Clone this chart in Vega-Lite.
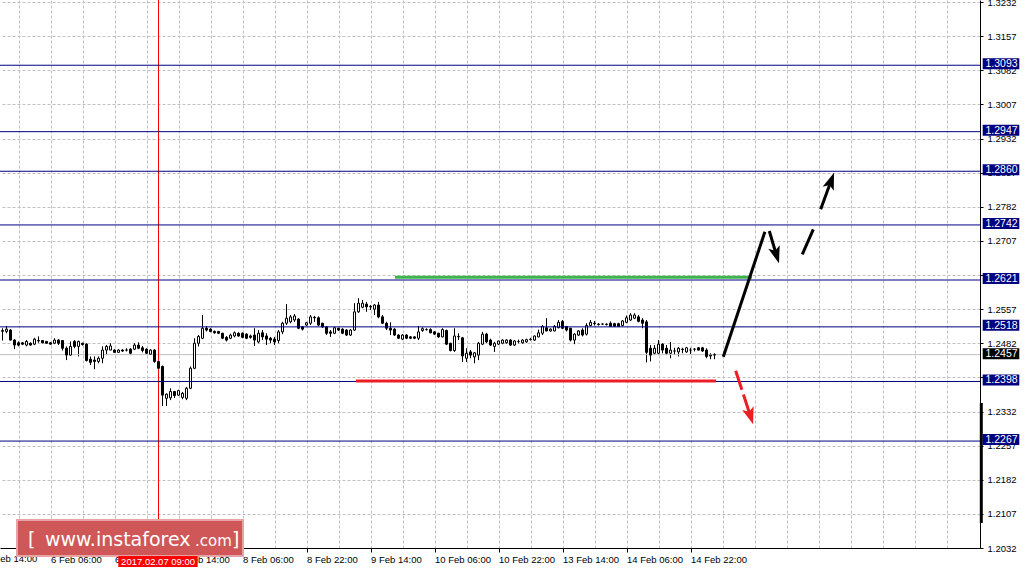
{
"$schema": "https://vega.github.io/schema/vega-lite/v6.json",
"width": 980, "height": 548,
"autosize": {"type": "none"},
"padding": {"left": 0, "top": 0, "right": 46, "bottom": 24},
"background": "white",
"config": {"view": {"stroke": null}, "scale": {"continuousPadding": 0},
 "axis": {"grid": true, "gridDash": [3,2], "gridColor": "#c0c0c0", "gridWidth": 1, "domainColor": "black", "domainWidth": 1, "tickColor": "black", "labelFont": "Liberation Sans", "labelFontSize": 9.5, "labelColor": "black", "labelOverlap": false, "labelFlush": false, "labelBound": false},
 "axisX": {"tickSize": 4, "labelAlign": "left", "labelBaseline": "top", "labelPadding": 2},
 "axisY": {"tickSize": 3, "labelPadding": 4}},
"datasets": {
"one": [{}],
"candles": [
{"i":0,"o":1.2508,"h":1.2515,"l":1.2488,"c":1.2510},
{"i":1,"o":1.2508,"h":1.2520,"l":1.2504,"c":1.2513},
{"i":2,"o":1.2511,"h":1.2513,"l":1.2488,"c":1.2489},
{"i":3,"o":1.2489,"h":1.2491,"l":1.2469,"c":1.2478},
{"i":4,"o":1.2483,"h":1.2486,"l":1.2475,"c":1.2478},
{"i":5,"o":1.2483,"h":1.2485,"l":1.2478,"c":1.2480},
{"i":6,"o":1.2478,"h":1.2489,"l":1.2475,"c":1.2486},
{"i":7,"o":1.2482,"h":1.2484,"l":1.2477,"c":1.2478},
{"i":8,"o":1.2480,"h":1.2494,"l":1.2478,"c":1.2491},
{"i":9,"o":1.2488,"h":1.2497,"l":1.2483,"c":1.2487},
{"i":10,"o":1.2488,"h":1.2489,"l":1.2482,"c":1.2483},
{"i":11,"o":1.2486,"h":1.2487,"l":1.2481,"c":1.2482},
{"i":12,"o":1.2483,"h":1.2485,"l":1.2479,"c":1.2480},
{"i":13,"o":1.2482,"h":1.2493,"l":1.2480,"c":1.2489},
{"i":14,"o":1.2489,"h":1.2491,"l":1.2478,"c":1.2482},
{"i":15,"o":1.2488,"h":1.2489,"l":1.2466,"c":1.2471},
{"i":16,"o":1.2471,"h":1.2475,"l":1.2445,"c":1.2456},
{"i":17,"o":1.2456,"h":1.2486,"l":1.2455,"c":1.2475},
{"i":18,"o":1.2486,"h":1.2489,"l":1.2471,"c":1.2475},
{"i":19,"o":1.2475,"h":1.2488,"l":1.2453,"c":1.2486},
{"i":20,"o":1.2482,"h":1.2483,"l":1.2477,"c":1.2479},
{"i":21,"o":1.2480,"h":1.2482,"l":1.2442,"c":1.2444},
{"i":22,"o":1.2447,"h":1.2453,"l":1.2434,"c":1.2440},
{"i":23,"o":1.2445,"h":1.2453,"l":1.2425,"c":1.2442},
{"i":24,"o":1.2442,"h":1.2453,"l":1.2438,"c":1.2449},
{"i":25,"o":1.2449,"h":1.2475,"l":1.2438,"c":1.2467},
{"i":26,"o":1.2467,"h":1.2478,"l":1.2456,"c":1.2475},
{"i":27,"o":1.2467,"h":1.2482,"l":1.2467,"c":1.2476},
{"i":28,"o":1.2467,"h":1.2469,"l":1.2461,"c":1.2462},
{"i":29,"o":1.2462,"h":1.2469,"l":1.2461,"c":1.2467},
{"i":30,"o":1.2467,"h":1.2469,"l":1.2463,"c":1.2465},
{"i":31,"o":1.2467,"h":1.2471,"l":1.2464,"c":1.2467},
{"i":32,"o":1.2469,"h":1.2471,"l":1.2456,"c":1.2460},
{"i":33,"o":1.2469,"h":1.2482,"l":1.2467,"c":1.2478},
{"i":34,"o":1.2478,"h":1.2484,"l":1.2469,"c":1.2471},
{"i":35,"o":1.2472,"h":1.2476,"l":1.2462,"c":1.2466},
{"i":36,"o":1.2469,"h":1.2471,"l":1.2458,"c":1.2460},
{"i":37,"o":1.2458,"h":1.2469,"l":1.2456,"c":1.2467},
{"i":38,"o":1.2467,"h":1.2469,"l":1.2439,"c":1.2442},
{"i":39,"o":1.2442,"h":1.2445,"l":1.2425,"c":1.2427},
{"i":40,"o":1.2431,"h":1.2433,"l":1.2344,"c":1.2368},
{"i":41,"o":1.2361,"h":1.2372,"l":1.2344,"c":1.2370},
{"i":42,"o":1.2362,"h":1.2383,"l":1.2357,"c":1.2376},
{"i":43,"o":1.2376,"h":1.2377,"l":1.2362,"c":1.2367},
{"i":44,"o":1.2368,"h":1.2380,"l":1.2366,"c":1.2378},
{"i":45,"o":1.2363,"h":1.2375,"l":1.2359,"c":1.2372},
{"i":46,"o":1.2361,"h":1.2386,"l":1.2357,"c":1.2383},
{"i":47,"o":1.2383,"h":1.2431,"l":1.2381,"c":1.2427},
{"i":48,"o":1.2427,"h":1.2493,"l":1.2425,"c":1.2482},
{"i":49,"o":1.2482,"h":1.2500,"l":1.2475,"c":1.2497},
{"i":50,"o":1.2493,"h":1.2544,"l":1.2491,"c":1.2515},
{"i":51,"o":1.2515,"h":1.2520,"l":1.2508,"c":1.2511},
{"i":52,"o":1.2513,"h":1.2515,"l":1.2506,"c":1.2508},
{"i":53,"o":1.2508,"h":1.2510,"l":1.2503,"c":1.2505},
{"i":54,"o":1.2508,"h":1.2509,"l":1.2502,"c":1.2504},
{"i":55,"o":1.2504,"h":1.2505,"l":1.2491,"c":1.2493},
{"i":56,"o":1.2495,"h":1.2498,"l":1.2486,"c":1.2489},
{"i":57,"o":1.2493,"h":1.2503,"l":1.2491,"c":1.2500},
{"i":58,"o":1.2498,"h":1.2508,"l":1.2495,"c":1.2505},
{"i":59,"o":1.2504,"h":1.2506,"l":1.2496,"c":1.2498},
{"i":60,"o":1.2504,"h":1.2506,"l":1.2493,"c":1.2495},
{"i":61,"o":1.2502,"h":1.2504,"l":1.2491,"c":1.2493},
{"i":62,"o":1.2498,"h":1.2501,"l":1.2492,"c":1.2495},
{"i":63,"o":1.2500,"h":1.2515,"l":1.2476,"c":1.2489},
{"i":64,"o":1.2485,"h":1.2511,"l":1.2482,"c":1.2504},
{"i":65,"o":1.2505,"h":1.2511,"l":1.2489,"c":1.2496},
{"i":66,"o":1.2498,"h":1.2504,"l":1.2478,"c":1.2491},
{"i":67,"o":1.2493,"h":1.2496,"l":1.2482,"c":1.2489},
{"i":68,"o":1.2491,"h":1.2496,"l":1.2478,"c":1.2485},
{"i":69,"o":1.2488,"h":1.2511,"l":1.2482,"c":1.2507},
{"i":70,"o":1.2507,"h":1.2529,"l":1.2502,"c":1.2526},
{"i":71,"o":1.2526,"h":1.2568,"l":1.2522,"c":1.2537},
{"i":72,"o":1.2529,"h":1.2544,"l":1.2526,"c":1.2540},
{"i":73,"o":1.2533,"h":1.2546,"l":1.2529,"c":1.2542},
{"i":74,"o":1.2535,"h":1.2537,"l":1.2513,"c":1.2515},
{"i":75,"o":1.2518,"h":1.2520,"l":1.2510,"c":1.2513},
{"i":76,"o":1.2522,"h":1.2529,"l":1.2520,"c":1.2527},
{"i":77,"o":1.2526,"h":1.2544,"l":1.2522,"c":1.2540},
{"i":78,"o":1.2539,"h":1.2542,"l":1.2529,"c":1.2538},
{"i":79,"o":1.2538,"h":1.2541,"l":1.2520,"c":1.2522},
{"i":80,"o":1.2526,"h":1.2527,"l":1.2516,"c":1.2518},
{"i":81,"o":1.2518,"h":1.2520,"l":1.2500,"c":1.2504},
{"i":82,"o":1.2507,"h":1.2511,"l":1.2496,"c":1.2504},
{"i":83,"o":1.2504,"h":1.2518,"l":1.2502,"c":1.2516},
{"i":84,"o":1.2515,"h":1.2516,"l":1.2509,"c":1.2511},
{"i":85,"o":1.2513,"h":1.2515,"l":1.2502,"c":1.2504},
{"i":86,"o":1.2511,"h":1.2513,"l":1.2498,"c":1.2500},
{"i":87,"o":1.2500,"h":1.2513,"l":1.2498,"c":1.2511},
{"i":88,"o":1.2511,"h":1.2570,"l":1.2509,"c":1.2551},
{"i":89,"o":1.2551,"h":1.2581,"l":1.2549,"c":1.2570},
{"i":90,"o":1.2561,"h":1.2577,"l":1.2559,"c":1.2570},
{"i":91,"o":1.2568,"h":1.2573,"l":1.2551,"c":1.2562},
{"i":92,"o":1.2563,"h":1.2566,"l":1.2555,"c":1.2562},
{"i":93,"o":1.2557,"h":1.2568,"l":1.2544,"c":1.2566},
{"i":94,"o":1.2566,"h":1.2573,"l":1.2537,"c":1.2540},
{"i":95,"o":1.2540,"h":1.2544,"l":1.2524,"c":1.2526},
{"i":96,"o":1.2526,"h":1.2529,"l":1.2511,"c":1.2515},
{"i":97,"o":1.2515,"h":1.2528,"l":1.2500,"c":1.2511},
{"i":98,"o":1.2513,"h":1.2515,"l":1.2498,"c":1.2500},
{"i":99,"o":1.2500,"h":1.2502,"l":1.2491,"c":1.2493},
{"i":100,"o":1.2491,"h":1.2502,"l":1.2489,"c":1.2500},
{"i":101,"o":1.2500,"h":1.2502,"l":1.2491,"c":1.2493},
{"i":102,"o":1.2496,"h":1.2498,"l":1.2491,"c":1.2493},
{"i":103,"o":1.2496,"h":1.2497,"l":1.2491,"c":1.2493},
{"i":104,"o":1.2493,"h":1.2520,"l":1.2489,"c":1.2507},
{"i":105,"o":1.2510,"h":1.2517,"l":1.2507,"c":1.2514},
{"i":106,"o":1.2512,"h":1.2515,"l":1.2510,"c":1.2512},
{"i":107,"o":1.2512,"h":1.2515,"l":1.2504,"c":1.2505},
{"i":108,"o":1.2507,"h":1.2509,"l":1.2500,"c":1.2502},
{"i":109,"o":1.2504,"h":1.2505,"l":1.2494,"c":1.2496},
{"i":110,"o":1.2496,"h":1.2515,"l":1.2495,"c":1.2512},
{"i":111,"o":1.2510,"h":1.2512,"l":1.2478,"c":1.2480},
{"i":112,"o":1.2482,"h":1.2483,"l":1.2464,"c":1.2466},
{"i":113,"o":1.2466,"h":1.2515,"l":1.2463,"c":1.2498},
{"i":114,"o":1.2496,"h":1.2504,"l":1.2489,"c":1.2497},
{"i":115,"o":1.2494,"h":1.2496,"l":1.2441,"c":1.2454},
{"i":116,"o":1.2449,"h":1.2471,"l":1.2441,"c":1.2460},
{"i":117,"o":1.2463,"h":1.2467,"l":1.2449,"c":1.2456},
{"i":118,"o":1.2452,"h":1.2463,"l":1.2438,"c":1.2461},
{"i":119,"o":1.2456,"h":1.2485,"l":1.2445,"c":1.2482},
{"i":120,"o":1.2480,"h":1.2507,"l":1.2478,"c":1.2502},
{"i":121,"o":1.2502,"h":1.2505,"l":1.2482,"c":1.2485},
{"i":122,"o":1.2489,"h":1.2492,"l":1.2476,"c":1.2478},
{"i":123,"o":1.2475,"h":1.2485,"l":1.2463,"c":1.2482},
{"i":124,"o":1.2480,"h":1.2488,"l":1.2478,"c":1.2487},
{"i":125,"o":1.2482,"h":1.2491,"l":1.2480,"c":1.2489},
{"i":126,"o":1.2483,"h":1.2491,"l":1.2481,"c":1.2489},
{"i":127,"o":1.2489,"h":1.2491,"l":1.2476,"c":1.2478},
{"i":128,"o":1.2478,"h":1.2489,"l":1.2476,"c":1.2487},
{"i":129,"o":1.2486,"h":1.2490,"l":1.2482,"c":1.2486},
{"i":130,"o":1.2483,"h":1.2491,"l":1.2481,"c":1.2489},
{"i":131,"o":1.2485,"h":1.2492,"l":1.2483,"c":1.2490},
{"i":132,"o":1.2490,"h":1.2494,"l":1.2488,"c":1.2491},
{"i":133,"o":1.2489,"h":1.2499,"l":1.2487,"c":1.2498},
{"i":134,"o":1.2496,"h":1.2512,"l":1.2495,"c":1.2505},
{"i":135,"o":1.2504,"h":1.2522,"l":1.2500,"c":1.2519},
{"i":136,"o":1.2516,"h":1.2537,"l":1.2508,"c":1.2509},
{"i":137,"o":1.2509,"h":1.2515,"l":1.2507,"c":1.2513},
{"i":138,"o":1.2509,"h":1.2522,"l":1.2508,"c":1.2519},
{"i":139,"o":1.2516,"h":1.2533,"l":1.2515,"c":1.2528},
{"i":140,"o":1.2530,"h":1.2533,"l":1.2513,"c":1.2515},
{"i":141,"o":1.2519,"h":1.2519,"l":1.2508,"c":1.2511},
{"i":142,"o":1.2515,"h":1.2516,"l":1.2486,"c":1.2489},
{"i":143,"o":1.2489,"h":1.2504,"l":1.2480,"c":1.2502},
{"i":144,"o":1.2500,"h":1.2511,"l":1.2498,"c":1.2509},
{"i":145,"o":1.2511,"h":1.2515,"l":1.2497,"c":1.2500},
{"i":146,"o":1.2502,"h":1.2526,"l":1.2499,"c":1.2521},
{"i":147,"o":1.2521,"h":1.2533,"l":1.2519,"c":1.2528},
{"i":148,"o":1.2526,"h":1.2531,"l":1.2521,"c":1.2525},
{"i":149,"o":1.2524,"h":1.2526,"l":1.2521,"c":1.2523},
{"i":150,"o":1.2524,"h":1.2526,"l":1.2522,"c":1.2524},
{"i":151,"o":1.2523,"h":1.2526,"l":1.2521,"c":1.2524},
{"i":152,"o":1.2526,"h":1.2530,"l":1.2518,"c":1.2519},
{"i":153,"o":1.2525,"h":1.2527,"l":1.2518,"c":1.2519},
{"i":154,"o":1.2525,"h":1.2527,"l":1.2518,"c":1.2519},
{"i":155,"o":1.2521,"h":1.2533,"l":1.2519,"c":1.2531},
{"i":156,"o":1.2528,"h":1.2543,"l":1.2526,"c":1.2538},
{"i":157,"o":1.2533,"h":1.2548,"l":1.2531,"c":1.2544},
{"i":158,"o":1.2537,"h":1.2548,"l":1.2535,"c":1.2544},
{"i":159,"o":1.2540,"h":1.2544,"l":1.2528,"c":1.2530},
{"i":160,"o":1.2533,"h":1.2537,"l":1.2515,"c":1.2526},
{"i":161,"o":1.2529,"h":1.2533,"l":1.2440,"c":1.2462},
{"i":162,"o":1.2471,"h":1.2478,"l":1.2442,"c":1.2456},
{"i":163,"o":1.2460,"h":1.2478,"l":1.2456,"c":1.2471},
{"i":164,"o":1.2460,"h":1.2489,"l":1.2456,"c":1.2480},
{"i":165,"o":1.2480,"h":1.2482,"l":1.2460,"c":1.2467},
{"i":166,"o":1.2471,"h":1.2478,"l":1.2456,"c":1.2460},
{"i":167,"o":1.2460,"h":1.2485,"l":1.2449,"c":1.2467},
{"i":168,"o":1.2465,"h":1.2472,"l":1.2456,"c":1.2465},
{"i":169,"o":1.2463,"h":1.2474,"l":1.2453,"c":1.2471},
{"i":170,"o":1.2469,"h":1.2472,"l":1.2460,"c":1.2468},
{"i":171,"o":1.2463,"h":1.2474,"l":1.2461,"c":1.2472},
{"i":172,"o":1.2467,"h":1.2472,"l":1.2458,"c":1.2467},
{"i":173,"o":1.2469,"h":1.2471,"l":1.2464,"c":1.2469},
{"i":174,"o":1.2472,"h":1.2474,"l":1.2466,"c":1.2467},
{"i":175,"o":1.2472,"h":1.2474,"l":1.2463,"c":1.2465},
{"i":176,"o":1.2467,"h":1.2471,"l":1.2449,"c":1.2453},
{"i":177,"o":1.2454,"h":1.2460,"l":1.2447,"c":1.2456},
{"i":178,"o":1.2456,"h":1.2460,"l":1.2447,"c":1.2457}
],
"levels": [{"p":1.3093},{"p":1.2947},{"p":1.2860},{"p":1.2742},{"p":1.2621},{"p":1.2518},{"p":1.2398},{"p":1.2267}],
"hsegs": [{"kind":"resistance","i":98.125,"i2":187.375,"p":1.2627},{"kind":"support","i":88.375,"i2":178.375,"p":1.2399}],
"blk": [
{"i":180.2,"p":1.24524,"i2":190.6,"p2":1.27272},
{"i":191.7,"p":1.27287,"i2":193.5,"p2":1.26755},
{"i":199.95,"p":1.26775,"i2":202.7,"p2":1.27325},
{"i":204.55,"p":1.27764,"i2":207.15,"p2":1.28393}],
"reddash": [{"i":183.3,"p":1.24217,"i2":187.0,"p2":1.23217}],
"heads": [
{"kind":"up","i":207.15,"p":1.28393,"a":20},
{"kind":"up","i":193.5,"p":1.26755,"a":163},
{"kind":"down","i":187.0,"p":1.23217,"a":162}]
},
"layer": [
{"data": {"name": "candles"},
 "mark": {"type": "rule", "color": "black", "strokeWidth": 1},
 "encoding": {
  "x": {"field": "i", "type": "quantitative", "title": null,
   "scale": {"domain": [-0.625, 244.375], "nice": false, "zero": false, "padding": 0},
   "axis": {"orient": "bottom", "values": [-4,4,12,20,28,36,44,52,60,68,76,84,92,100,108,116,124,132,140,148,156,164,172,180,188,196,204,212,220,228,236], "tickOpacity": {"condition": {"test": "(datum.value+4)%16==0 && datum.value<=172", "value": 1}, "value": 0}, "labelExpr": "(datum.value+4)%16==0 ? (['5 Feb 14:00','6 Feb 06:00','6 Feb 22:00','7 Feb 14:00','8 Feb 06:00','8 Feb 22:00','9 Feb 14:00','10 Feb 06:00','10 Feb 22:00','13 Feb 14:00','14 Feb 06:00','14 Feb 22:00'][(datum.value+4)/16] || '') : ''"}},
  "y": {"field": "l", "type": "quantitative", "title": null,
   "scale": {"domain": [1.2032, 1.32364], "nice": false, "zero": false, "padding": 0},
   "axis": {"orient": "right", "values": [1.2032,1.2107,1.2182,1.2257,1.2332,1.2407,1.2482,1.2557,1.2632,1.2707,1.2782,1.2857,1.2932,1.3007,1.3082,1.3157,1.3232], "format": ".4f"}},
  "y2": {"field": "h"}}},
{"data": {"name": "one"},
 "mark": {"type": "rule", "color": "#c0c0c0", "strokeWidth": 1},
 "encoding": {"y": {"datum": 1.2457, "type": "quantitative", "title": null,
   "axis": {"orient": "right", "values": [1.2032,1.2107,1.2182,1.2257,1.2332,1.2407,1.2482,1.2557,1.2632,1.2707,1.2782,1.2857,1.2932,1.3007,1.3082,1.3157,1.3232], "format": ".4f"}}}},
{"data": {"name": "one"},
 "mark": {"type": "rule", "color": "#ff0000", "strokeWidth": 1},
 "encoding": {"x": {"datum": 39, "type": "quantitative", "title": null,
   "axis": {"orient": "bottom", "values": [-4,4,12,20,28,36,44,52,60,68,76,84,92,100,108,116,124,132,140,148,156,164,172,180,188,196,204,212,220,228,236], "tickOpacity": {"condition": {"test": "(datum.value+4)%16==0 && datum.value<=172", "value": 1}, "value": 0}, "labelExpr": "(datum.value+4)%16==0 ? (['5 Feb 14:00','6 Feb 06:00','6 Feb 22:00','7 Feb 14:00','8 Feb 06:00','8 Feb 22:00','9 Feb 14:00','10 Feb 06:00','10 Feb 22:00','13 Feb 14:00','14 Feb 06:00','14 Feb 22:00'][(datum.value+4)/16] || '') : ''"}}}},
{"data": {"name": "candles"},
 "mark": {"type": "bar", "size": 2, "stroke": "black", "strokeWidth": 1},
 "encoding": {
  "x": {"field": "i", "type": "quantitative", "title": null,
   "axis": {"orient": "bottom", "values": [-4,4,12,20,28,36,44,52,60,68,76,84,92,100,108,116,124,132,140,148,156,164,172,180,188,196,204,212,220,228,236], "tickOpacity": {"condition": {"test": "(datum.value+4)%16==0 && datum.value<=172", "value": 1}, "value": 0}, "labelExpr": "(datum.value+4)%16==0 ? (['5 Feb 14:00','6 Feb 06:00','6 Feb 22:00','7 Feb 14:00','8 Feb 06:00','8 Feb 22:00','9 Feb 14:00','10 Feb 06:00','10 Feb 22:00','13 Feb 14:00','14 Feb 06:00','14 Feb 22:00'][(datum.value+4)/16] || '') : ''"}},
  "y": {"field": "o", "type": "quantitative", "title": null,
   "axis": {"orient": "right", "values": [1.2032,1.2107,1.2182,1.2257,1.2332,1.2407,1.2482,1.2557,1.2632,1.2707,1.2782,1.2857,1.2932,1.3007,1.3082,1.3157,1.3232], "format": ".4f"}},
  "y2": {"field": "c"},
  "fill": {"condition": {"test": "datum.c >= datum.o", "value": "white"}, "value": "black"}}},
{"data": {"name": "levels"},
 "mark": {"type": "rule", "color": "#000080", "strokeWidth": 1},
 "encoding": {"y": {"field": "p", "type": "quantitative", "title": null,
   "axis": {"orient": "right", "values": [1.2032,1.2107,1.2182,1.2257,1.2332,1.2407,1.2482,1.2557,1.2632,1.2707,1.2782,1.2857,1.2932,1.3007,1.3082,1.3157,1.3232], "format": ".4f"}}}},
{"data": {"name": "hsegs"},
 "transform": [{"filter": "datum.kind == 'resistance'"}],
 "mark": {"type": "rule", "strokeWidth": 3, "color": "#3cb44b"},
 "encoding": {
  "x": {"field": "i", "type": "quantitative", "title": null,
   "axis": {"orient": "bottom", "values": [-4,4,12,20,28,36,44,52,60,68,76,84,92,100,108,116,124,132,140,148,156,164,172,180,188,196,204,212,220,228,236], "tickOpacity": {"condition": {"test": "(datum.value+4)%16==0 && datum.value<=172", "value": 1}, "value": 0}, "labelExpr": "(datum.value+4)%16==0 ? (['5 Feb 14:00','6 Feb 06:00','6 Feb 22:00','7 Feb 14:00','8 Feb 06:00','8 Feb 22:00','9 Feb 14:00','10 Feb 06:00','10 Feb 22:00','13 Feb 14:00','14 Feb 06:00','14 Feb 22:00'][(datum.value+4)/16] || '') : ''"}},
  "x2": {"field": "i2"},
  "y": {"field": "p", "type": "quantitative", "title": null,
   "axis": {"orient": "right", "values": [1.2032,1.2107,1.2182,1.2257,1.2332,1.2407,1.2482,1.2557,1.2632,1.2707,1.2782,1.2857,1.2932,1.3007,1.3082,1.3157,1.3232], "format": ".4f"}}}},
{"data": {"name": "hsegs"},
 "transform": [{"filter": "datum.kind == 'support'"}],
 "mark": {"type": "rule", "strokeWidth": 3, "color": "#ee1c24"},
 "encoding": {
  "x": {"field": "i", "type": "quantitative", "title": null,
   "axis": {"orient": "bottom", "values": [-4,4,12,20,28,36,44,52,60,68,76,84,92,100,108,116,124,132,140,148,156,164,172,180,188,196,204,212,220,228,236], "tickOpacity": {"condition": {"test": "(datum.value+4)%16==0 && datum.value<=172", "value": 1}, "value": 0}, "labelExpr": "(datum.value+4)%16==0 ? (['5 Feb 14:00','6 Feb 06:00','6 Feb 22:00','7 Feb 14:00','8 Feb 06:00','8 Feb 22:00','9 Feb 14:00','10 Feb 06:00','10 Feb 22:00','13 Feb 14:00','14 Feb 06:00','14 Feb 22:00'][(datum.value+4)/16] || '') : ''"}},
  "x2": {"field": "i2"},
  "y": {"field": "p", "type": "quantitative", "title": null,
   "axis": {"orient": "right", "values": [1.2032,1.2107,1.2182,1.2257,1.2332,1.2407,1.2482,1.2557,1.2632,1.2707,1.2782,1.2857,1.2932,1.3007,1.3082,1.3157,1.3232], "format": ".4f"}}}},
{"data": {"name": "blk"},
 "mark": {"type": "rule", "strokeWidth": 3, "color": "black"},
 "encoding": {
  "x": {"field": "i", "type": "quantitative", "title": null,
   "axis": {"orient": "bottom", "values": [-4,4,12,20,28,36,44,52,60,68,76,84,92,100,108,116,124,132,140,148,156,164,172,180,188,196,204,212,220,228,236], "tickOpacity": {"condition": {"test": "(datum.value+4)%16==0 && datum.value<=172", "value": 1}, "value": 0}, "labelExpr": "(datum.value+4)%16==0 ? (['5 Feb 14:00','6 Feb 06:00','6 Feb 22:00','7 Feb 14:00','8 Feb 06:00','8 Feb 22:00','9 Feb 14:00','10 Feb 06:00','10 Feb 22:00','13 Feb 14:00','14 Feb 06:00','14 Feb 22:00'][(datum.value+4)/16] || '') : ''"}},
  "x2": {"field": "i2"},
  "y": {"field": "p", "type": "quantitative", "title": null,
   "axis": {"orient": "right", "values": [1.2032,1.2107,1.2182,1.2257,1.2332,1.2407,1.2482,1.2557,1.2632,1.2707,1.2782,1.2857,1.2932,1.3007,1.3082,1.3157,1.3232], "format": ".4f"}},
  "y2": {"field": "p2"}}},
{"data": {"name": "reddash"},
 "mark": {"type": "rule", "strokeWidth": 3, "color": "#ee1c24", "strokeDash": [20, 5]},
 "encoding": {
  "x": {"field": "i", "type": "quantitative", "title": null,
   "axis": {"orient": "bottom", "values": [-4,4,12,20,28,36,44,52,60,68,76,84,92,100,108,116,124,132,140,148,156,164,172,180,188,196,204,212,220,228,236], "tickOpacity": {"condition": {"test": "(datum.value+4)%16==0 && datum.value<=172", "value": 1}, "value": 0}, "labelExpr": "(datum.value+4)%16==0 ? (['5 Feb 14:00','6 Feb 06:00','6 Feb 22:00','7 Feb 14:00','8 Feb 06:00','8 Feb 22:00','9 Feb 14:00','10 Feb 06:00','10 Feb 22:00','13 Feb 14:00','14 Feb 06:00','14 Feb 22:00'][(datum.value+4)/16] || '') : ''"}},
  "x2": {"field": "i2"},
  "y": {"field": "p", "type": "quantitative", "title": null,
   "axis": {"orient": "right", "values": [1.2032,1.2107,1.2182,1.2257,1.2332,1.2407,1.2482,1.2557,1.2632,1.2707,1.2782,1.2857,1.2932,1.3007,1.3082,1.3157,1.3232], "format": ".4f"}},
  "y2": {"field": "p2"}}},
{"data": {"name": "heads"},
 "transform": [{"filter": "datum.kind == 'up'"}],
 "mark": {"type": "point", "shape": "M0,-1L0.7,1L0,0.55L-0.7,1Z", "filled": true, "size": 289, "opacity": 1, "color": "black"},
 "encoding": {
  "x": {"field": "i", "type": "quantitative", "title": null,
   "axis": {"orient": "bottom", "values": [-4,4,12,20,28,36,44,52,60,68,76,84,92,100,108,116,124,132,140,148,156,164,172,180,188,196,204,212,220,228,236], "tickOpacity": {"condition": {"test": "(datum.value+4)%16==0 && datum.value<=172", "value": 1}, "value": 0}, "labelExpr": "(datum.value+4)%16==0 ? (['5 Feb 14:00','6 Feb 06:00','6 Feb 22:00','7 Feb 14:00','8 Feb 06:00','8 Feb 22:00','9 Feb 14:00','10 Feb 06:00','10 Feb 22:00','13 Feb 14:00','14 Feb 06:00','14 Feb 22:00'][(datum.value+4)/16] || '') : ''"}},
  "y": {"field": "p", "type": "quantitative", "title": null,
   "axis": {"orient": "right", "values": [1.2032,1.2107,1.2182,1.2257,1.2332,1.2407,1.2482,1.2557,1.2632,1.2707,1.2782,1.2857,1.2932,1.3007,1.3082,1.3157,1.3232], "format": ".4f"}},
  "angle": {"field": "a", "type": "quantitative", "scale": null}}},
{"data": {"name": "heads"},
 "transform": [{"filter": "datum.kind == 'down'"}],
 "mark": {"type": "point", "shape": "M0,-1L0.7,1L0,0.55L-0.7,1Z", "filled": true, "size": 289, "opacity": 1, "color": "#ee1c24"},
 "encoding": {
  "x": {"field": "i", "type": "quantitative", "title": null,
   "axis": {"orient": "bottom", "values": [-4,4,12,20,28,36,44,52,60,68,76,84,92,100,108,116,124,132,140,148,156,164,172,180,188,196,204,212,220,228,236], "tickOpacity": {"condition": {"test": "(datum.value+4)%16==0 && datum.value<=172", "value": 1}, "value": 0}, "labelExpr": "(datum.value+4)%16==0 ? (['5 Feb 14:00','6 Feb 06:00','6 Feb 22:00','7 Feb 14:00','8 Feb 06:00','8 Feb 22:00','9 Feb 14:00','10 Feb 06:00','10 Feb 22:00','13 Feb 14:00','14 Feb 06:00','14 Feb 22:00'][(datum.value+4)/16] || '') : ''"}},
  "y": {"field": "p", "type": "quantitative", "title": null,
   "axis": {"orient": "right", "values": [1.2032,1.2107,1.2182,1.2257,1.2332,1.2407,1.2482,1.2557,1.2632,1.2707,1.2782,1.2857,1.2932,1.3007,1.3082,1.3157,1.3232], "format": ".4f"}},
  "angle": {"field": "a", "type": "quantitative", "scale": null}}},
{"data": {"name": "one"},
 "mark": {"type": "rule", "color": "black", "strokeWidth": 3},
 "encoding": {
  "x": {"datum": 244.7, "type": "quantitative", "title": null,
   "axis": {"orient": "bottom", "values": [-4,4,12,20,28,36,44,52,60,68,76,84,92,100,108,116,124,132,140,148,156,164,172,180,188,196,204,212,220,228,236], "tickOpacity": {"condition": {"test": "(datum.value+4)%16==0 && datum.value<=172", "value": 1}, "value": 0}, "labelExpr": "(datum.value+4)%16==0 ? (['5 Feb 14:00','6 Feb 06:00','6 Feb 22:00','7 Feb 14:00','8 Feb 06:00','8 Feb 22:00','9 Feb 14:00','10 Feb 06:00','10 Feb 22:00','13 Feb 14:00','14 Feb 06:00','14 Feb 22:00'][(datum.value+4)/16] || '') : ''"}},
  "y": {"datum": 1.23507, "type": "quantitative", "title": null,
   "axis": {"orient": "right", "values": [1.2032,1.2107,1.2182,1.2257,1.2332,1.2407,1.2482,1.2557,1.2632,1.2707,1.2782,1.2857,1.2932,1.3007,1.3082,1.3157,1.3232], "format": ".4f"}},
  "y2": {"datum": 1.2087}}},
{"data": {"name": "levels"},
 "mark": {"type": "bar", "size": 11, "color": "#000080", "yOffset": -1.5},
 "encoding": {
  "x": {"datum": 245.05, "type": "quantitative", "title": null,
   "axis": {"orient": "bottom", "values": [-4,4,12,20,28,36,44,52,60,68,76,84,92,100,108,116,124,132,140,148,156,164,172,180,188,196,204,212,220,228,236], "tickOpacity": {"condition": {"test": "(datum.value+4)%16==0 && datum.value<=172", "value": 1}, "value": 0}, "labelExpr": "(datum.value+4)%16==0 ? (['5 Feb 14:00','6 Feb 06:00','6 Feb 22:00','7 Feb 14:00','8 Feb 06:00','8 Feb 22:00','9 Feb 14:00','10 Feb 06:00','10 Feb 22:00','13 Feb 14:00','14 Feb 06:00','14 Feb 22:00'][(datum.value+4)/16] || '') : ''"}},
  "x2": {"datum": 254.2},
  "y": {"field": "p", "type": "quantitative", "title": null,
   "axis": {"orient": "right", "values": [1.2032,1.2107,1.2182,1.2257,1.2332,1.2407,1.2482,1.2557,1.2632,1.2707,1.2782,1.2857,1.2932,1.3007,1.3082,1.3157,1.3232], "format": ".4f"}}}},
{"data": {"name": "levels"},
 "mark": {"type": "text", "align": "left", "baseline": "middle", "color": "white", "font": "Liberation Sans", "fontSize": 10.5, "yOffset": -1},
 "encoding": {
  "x": {"datum": 245.75, "type": "quantitative", "title": null,
   "axis": {"orient": "bottom", "values": [-4,4,12,20,28,36,44,52,60,68,76,84,92,100,108,116,124,132,140,148,156,164,172,180,188,196,204,212,220,228,236], "tickOpacity": {"condition": {"test": "(datum.value+4)%16==0 && datum.value<=172", "value": 1}, "value": 0}, "labelExpr": "(datum.value+4)%16==0 ? (['5 Feb 14:00','6 Feb 06:00','6 Feb 22:00','7 Feb 14:00','8 Feb 06:00','8 Feb 22:00','9 Feb 14:00','10 Feb 06:00','10 Feb 22:00','13 Feb 14:00','14 Feb 06:00','14 Feb 22:00'][(datum.value+4)/16] || '') : ''"}},
  "y": {"field": "p", "type": "quantitative", "title": null,
   "axis": {"orient": "right", "values": [1.2032,1.2107,1.2182,1.2257,1.2332,1.2407,1.2482,1.2557,1.2632,1.2707,1.2782,1.2857,1.2932,1.3007,1.3082,1.3157,1.3232], "format": ".4f"}},
  "text": {"field": "p", "type": "quantitative", "format": ".4f"}}},
{"data": {"name": "one"},
 "mark": {"type": "bar", "size": 11, "color": "black", "yOffset": -1},
 "encoding": {
  "x": {"datum": 245.05, "type": "quantitative", "title": null,
   "axis": {"orient": "bottom", "values": [-4,4,12,20,28,36,44,52,60,68,76,84,92,100,108,116,124,132,140,148,156,164,172,180,188,196,204,212,220,228,236], "tickOpacity": {"condition": {"test": "(datum.value+4)%16==0 && datum.value<=172", "value": 1}, "value": 0}, "labelExpr": "(datum.value+4)%16==0 ? (['5 Feb 14:00','6 Feb 06:00','6 Feb 22:00','7 Feb 14:00','8 Feb 06:00','8 Feb 22:00','9 Feb 14:00','10 Feb 06:00','10 Feb 22:00','13 Feb 14:00','14 Feb 06:00','14 Feb 22:00'][(datum.value+4)/16] || '') : ''"}},
  "x2": {"datum": 254.2},
  "y": {"datum": 1.2457, "type": "quantitative", "title": null,
   "axis": {"orient": "right", "values": [1.2032,1.2107,1.2182,1.2257,1.2332,1.2407,1.2482,1.2557,1.2632,1.2707,1.2782,1.2857,1.2932,1.3007,1.3082,1.3157,1.3232], "format": ".4f"}}}},
{"data": {"name": "one"},
 "mark": {"type": "text", "align": "left", "baseline": "middle", "color": "white", "font": "Liberation Sans", "fontSize": 10.5, "yOffset": -0.5},
 "encoding": {
  "x": {"datum": 245.75, "type": "quantitative", "title": null,
   "axis": {"orient": "bottom", "values": [-4,4,12,20,28,36,44,52,60,68,76,84,92,100,108,116,124,132,140,148,156,164,172,180,188,196,204,212,220,228,236], "tickOpacity": {"condition": {"test": "(datum.value+4)%16==0 && datum.value<=172", "value": 1}, "value": 0}, "labelExpr": "(datum.value+4)%16==0 ? (['5 Feb 14:00','6 Feb 06:00','6 Feb 22:00','7 Feb 14:00','8 Feb 06:00','8 Feb 22:00','9 Feb 14:00','10 Feb 06:00','10 Feb 22:00','13 Feb 14:00','14 Feb 06:00','14 Feb 22:00'][(datum.value+4)/16] || '') : ''"}},
  "y": {"datum": 1.2457, "type": "quantitative", "title": null,
   "axis": {"orient": "right", "values": [1.2032,1.2107,1.2182,1.2257,1.2332,1.2407,1.2482,1.2557,1.2632,1.2707,1.2782,1.2857,1.2932,1.3007,1.3082,1.3157,1.3232], "format": ".4f"}},
  "text": {"value": "1.2457"}}},
{"data": {"name": "one"},
 "mark": {"type": "text", "align": "left", "baseline": "top", "color": "black", "font": "Liberation Sans", "fontSize": 9.5},
 "encoding": {
  "x": {"datum": -4, "type": "quantitative", "title": null,
   "axis": {"orient": "bottom", "values": [-4,4,12,20,28,36,44,52,60,68,76,84,92,100,108,116,124,132,140,148,156,164,172,180,188,196,204,212,220,228,236], "tickOpacity": {"condition": {"test": "(datum.value+4)%16==0 && datum.value<=172", "value": 1}, "value": 0}, "labelExpr": "(datum.value+4)%16==0 ? (['5 Feb 14:00','6 Feb 06:00','6 Feb 22:00','7 Feb 14:00','8 Feb 06:00','8 Feb 22:00','9 Feb 14:00','10 Feb 06:00','10 Feb 22:00','13 Feb 14:00','14 Feb 06:00','14 Feb 22:00'][(datum.value+4)/16] || '') : ''"}},
  "y": {"datum": 1.20188, "type": "quantitative", "title": null,
   "axis": {"orient": "right", "values": [1.2032,1.2107,1.2182,1.2257,1.2332,1.2407,1.2482,1.2557,1.2632,1.2707,1.2782,1.2857,1.2932,1.3007,1.3082,1.3157,1.3232], "format": ".4f"}},
  "text": {"value": "5 Feb 14:00"}}},
{"data": {"name": "one"},
 "mark": {"type": "rect", "color": "#cf5757", "stroke": "#e8a4a4", "strokeWidth": 2},
 "encoding": {
  "x": {"datum": 3.625, "type": "quantitative", "title": null,
   "axis": {"orient": "bottom", "values": [-4,4,12,20,28,36,44,52,60,68,76,84,92,100,108,116,124,132,140,148,156,164,172,180,188,196,204,212,220,228,236], "tickOpacity": {"condition": {"test": "(datum.value+4)%16==0 && datum.value<=172", "value": 1}, "value": 0}, "labelExpr": "(datum.value+4)%16==0 ? (['5 Feb 14:00','6 Feb 06:00','6 Feb 22:00','7 Feb 14:00','8 Feb 06:00','8 Feb 22:00','9 Feb 14:00','10 Feb 06:00','10 Feb 22:00','13 Feb 14:00','14 Feb 06:00','14 Feb 22:00'][(datum.value+4)/16] || '') : ''"}},
  "x2": {"datum": 60.125},
  "y": {"datum": 1.20936, "type": "quantitative", "title": null,
   "axis": {"orient": "right", "values": [1.2032,1.2107,1.2182,1.2257,1.2332,1.2407,1.2482,1.2557,1.2632,1.2707,1.2782,1.2857,1.2932,1.3007,1.3082,1.3157,1.3232], "format": ".4f"}},
  "y2": {"datum": 1.20144}}},
{"data": {"name": "one"},
 "mark": {"type": "text", "align": "left", "baseline": "alphabetic", "color": "white", "font": "DejaVu Sans", "fontSize": 19},
 "encoding": {
  "x": {"datum": 6.375, "type": "quantitative", "title": null,
   "axis": {"orient": "bottom", "values": [-4,4,12,20,28,36,44,52,60,68,76,84,92,100,108,116,124,132,140,148,156,164,172,180,188,196,204,212,220,228,236], "tickOpacity": {"condition": {"test": "(datum.value+4)%16==0 && datum.value<=172", "value": 1}, "value": 0}, "labelExpr": "(datum.value+4)%16==0 ? (['5 Feb 14:00','6 Feb 06:00','6 Feb 22:00','7 Feb 14:00','8 Feb 06:00','8 Feb 22:00','9 Feb 14:00','10 Feb 06:00','10 Feb 22:00','13 Feb 14:00','14 Feb 06:00','14 Feb 22:00'][(datum.value+4)/16] || '') : ''"}},
  "y": {"datum": 1.20364, "type": "quantitative", "title": null,
   "axis": {"orient": "right", "values": [1.2032,1.2107,1.2182,1.2257,1.2332,1.2407,1.2482,1.2557,1.2632,1.2707,1.2782,1.2857,1.2932,1.3007,1.3082,1.3157,1.3232], "format": ".4f"}},
  "text": {"value": "["}}},
{"data": {"name": "one"},
 "mark": {"type": "text", "align": "left", "baseline": "alphabetic", "color": "white", "font": "DejaVu Sans", "fontSize": 19},
 "encoding": {
  "x": {"datum": 10.625, "type": "quantitative", "title": null,
   "axis": {"orient": "bottom", "values": [-4,4,12,20,28,36,44,52,60,68,76,84,92,100,108,116,124,132,140,148,156,164,172,180,188,196,204,212,220,228,236], "tickOpacity": {"condition": {"test": "(datum.value+4)%16==0 && datum.value<=172", "value": 1}, "value": 0}, "labelExpr": "(datum.value+4)%16==0 ? (['5 Feb 14:00','6 Feb 06:00','6 Feb 22:00','7 Feb 14:00','8 Feb 06:00','8 Feb 22:00','9 Feb 14:00','10 Feb 06:00','10 Feb 22:00','13 Feb 14:00','14 Feb 06:00','14 Feb 22:00'][(datum.value+4)/16] || '') : ''"}},
  "y": {"datum": 1.20364, "type": "quantitative", "title": null,
   "axis": {"orient": "right", "values": [1.2032,1.2107,1.2182,1.2257,1.2332,1.2407,1.2482,1.2557,1.2632,1.2707,1.2782,1.2857,1.2932,1.3007,1.3082,1.3157,1.3232], "format": ".4f"}},
  "text": {"value": "www.instaforex"}}},
{"data": {"name": "one"},
 "mark": {"type": "text", "align": "left", "baseline": "alphabetic", "color": "white", "font": "DejaVu Sans", "fontSize": 15},
 "encoding": {
  "x": {"datum": 48.125, "type": "quantitative", "title": null,
   "axis": {"orient": "bottom", "values": [-4,4,12,20,28,36,44,52,60,68,76,84,92,100,108,116,124,132,140,148,156,164,172,180,188,196,204,212,220,228,236], "tickOpacity": {"condition": {"test": "(datum.value+4)%16==0 && datum.value<=172", "value": 1}, "value": 0}, "labelExpr": "(datum.value+4)%16==0 ? (['5 Feb 14:00','6 Feb 06:00','6 Feb 22:00','7 Feb 14:00','8 Feb 06:00','8 Feb 22:00','9 Feb 14:00','10 Feb 06:00','10 Feb 22:00','13 Feb 14:00','14 Feb 06:00','14 Feb 22:00'][(datum.value+4)/16] || '') : ''"}},
  "y": {"datum": 1.20364, "type": "quantitative", "title": null,
   "axis": {"orient": "right", "values": [1.2032,1.2107,1.2182,1.2257,1.2332,1.2407,1.2482,1.2557,1.2632,1.2707,1.2782,1.2857,1.2932,1.3007,1.3082,1.3157,1.3232], "format": ".4f"}},
  "text": {"value": ".com"}}},
{"data": {"name": "one"},
 "mark": {"type": "text", "align": "left", "baseline": "alphabetic", "color": "white", "font": "DejaVu Sans", "fontSize": 19},
 "encoding": {
  "x": {"datum": 57.375, "type": "quantitative", "title": null,
   "axis": {"orient": "bottom", "values": [-4,4,12,20,28,36,44,52,60,68,76,84,92,100,108,116,124,132,140,148,156,164,172,180,188,196,204,212,220,228,236], "tickOpacity": {"condition": {"test": "(datum.value+4)%16==0 && datum.value<=172", "value": 1}, "value": 0}, "labelExpr": "(datum.value+4)%16==0 ? (['5 Feb 14:00','6 Feb 06:00','6 Feb 22:00','7 Feb 14:00','8 Feb 06:00','8 Feb 22:00','9 Feb 14:00','10 Feb 06:00','10 Feb 22:00','13 Feb 14:00','14 Feb 06:00','14 Feb 22:00'][(datum.value+4)/16] || '') : ''"}},
  "y": {"datum": 1.20364, "type": "quantitative", "title": null,
   "axis": {"orient": "right", "values": [1.2032,1.2107,1.2182,1.2257,1.2332,1.2407,1.2482,1.2557,1.2632,1.2707,1.2782,1.2857,1.2932,1.3007,1.3082,1.3157,1.3232], "format": ".4f"}},
  "text": {"value": "]"}}},
{"data": {"name": "one"},
 "mark": {"type": "rect", "color": "#ff0000"},
 "encoding": {
  "x": {"datum": 28.95, "type": "quantitative", "title": null,
   "axis": {"orient": "bottom", "values": [-4,4,12,20,28,36,44,52,60,68,76,84,92,100,108,116,124,132,140,148,156,164,172,180,188,196,204,212,220,228,236], "tickOpacity": {"condition": {"test": "(datum.value+4)%16==0 && datum.value<=172", "value": 1}, "value": 0}, "labelExpr": "(datum.value+4)%16==0 ? (['5 Feb 14:00','6 Feb 06:00','6 Feb 22:00','7 Feb 14:00','8 Feb 06:00','8 Feb 22:00','9 Feb 14:00','10 Feb 06:00','10 Feb 22:00','13 Feb 14:00','14 Feb 06:00','14 Feb 22:00'][(datum.value+4)/16] || '') : ''"}},
  "x2": {"datum": 48.8},
  "y": {"datum": 1.20144, "type": "quantitative", "title": null,
   "axis": {"orient": "right", "values": [1.2032,1.2107,1.2182,1.2257,1.2332,1.2407,1.2482,1.2557,1.2632,1.2707,1.2782,1.2857,1.2932,1.3007,1.3082,1.3157,1.3232], "format": ".4f"}},
  "y2": {"datum": 1.19902}}},
{"data": {"name": "one"},
 "mark": {"type": "text", "align": "center", "baseline": "middle", "color": "white", "font": "Liberation Sans", "fontSize": 9.5},
 "encoding": {
  "x": {"datum": 38.9, "type": "quantitative", "title": null,
   "axis": {"orient": "bottom", "values": [-4,4,12,20,28,36,44,52,60,68,76,84,92,100,108,116,124,132,140,148,156,164,172,180,188,196,204,212,220,228,236], "tickOpacity": {"condition": {"test": "(datum.value+4)%16==0 && datum.value<=172", "value": 1}, "value": 0}, "labelExpr": "(datum.value+4)%16==0 ? (['5 Feb 14:00','6 Feb 06:00','6 Feb 22:00','7 Feb 14:00','8 Feb 06:00','8 Feb 22:00','9 Feb 14:00','10 Feb 06:00','10 Feb 22:00','13 Feb 14:00','14 Feb 06:00','14 Feb 22:00'][(datum.value+4)/16] || '') : ''"}},
  "y": {"datum": 1.20023, "type": "quantitative", "title": null,
   "axis": {"orient": "right", "values": [1.2032,1.2107,1.2182,1.2257,1.2332,1.2407,1.2482,1.2557,1.2632,1.2707,1.2782,1.2857,1.2932,1.3007,1.3082,1.3157,1.3232], "format": ".4f"}},
  "text": {"value": "2017.02.07 09:00"}}}
]
}
